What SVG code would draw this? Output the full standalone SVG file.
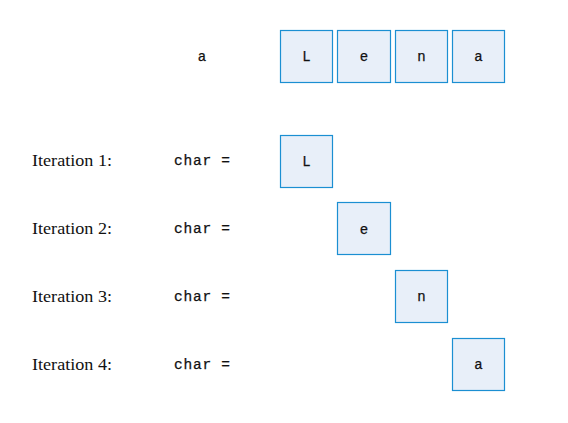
<svg xmlns="http://www.w3.org/2000/svg" width="568" height="423" viewBox="0 0 568 423">
<style>
.box{fill:#e8eff9;stroke:#1b8fd2;stroke-width:1.2}
.ch{font-family:"Liberation Mono","DejaVu Sans Mono",monospace;font-size:14px;fill:#111;text-anchor:middle;stroke:#111;stroke-width:0.25}
.lbl{font-family:"Liberation Serif","DejaVu Serif",serif;font-size:17px;fill:#111}
.code{font-family:"Liberation Mono","DejaVu Sans Mono",monospace;font-size:14.5px;fill:#111;stroke:#111;stroke-width:0.25}
</style>
<rect width="568" height="423" fill="#fff"/>
<g id="var-a"><text class="ch" x="202" y="61">a</text></g>
<g id="s0"><rect class="box" x="280.5" y="30.5" width="52" height="52"/><text class="ch" x="306.5" y="61">L</text></g>
<g id="s1"><rect class="box" x="337.5" y="30.5" width="53" height="52"/><text class="ch" x="364" y="61">e</text></g>
<g id="s2"><rect class="box" x="395.5" y="30.5" width="52" height="52"/><text class="ch" x="421.5" y="61">n</text></g>
<g id="s3"><rect class="box" x="452.5" y="30.5" width="52" height="52"/><text class="ch" x="478.5" y="61">a</text></g>
<g id="it1"><text class="lbl" x="32" y="166" textLength="80" lengthAdjust="spacingAndGlyphs">Iteration 1:</text><text class="code" x="174" y="165" textLength="56">char =</text><rect class="box" x="280.5" y="135.5" width="52" height="52"/><text class="ch" x="306.5" y="166">L</text></g>
<g id="it2"><text class="lbl" x="32" y="234" textLength="80" lengthAdjust="spacingAndGlyphs">Iteration 2:</text><text class="code" x="174" y="233" textLength="56">char =</text><rect class="box" x="337.5" y="202.5" width="53" height="52"/><text class="ch" x="364" y="234">e</text></g>
<g id="it3"><text class="lbl" x="32" y="302" textLength="80" lengthAdjust="spacingAndGlyphs">Iteration 3:</text><text class="code" x="174" y="301" textLength="56">char =</text><rect class="box" x="395.5" y="270.5" width="52" height="52"/><text class="ch" x="421.5" y="301">n</text></g>
<g id="it4"><text class="lbl" x="32" y="370" textLength="80" lengthAdjust="spacingAndGlyphs">Iteration 4:</text><text class="code" x="174" y="369" textLength="56">char =</text><rect class="box" x="452.5" y="338.5" width="52" height="52"/><text class="ch" x="478.5" y="369">a</text></g>
<g id="connectors"></g>
</svg>
